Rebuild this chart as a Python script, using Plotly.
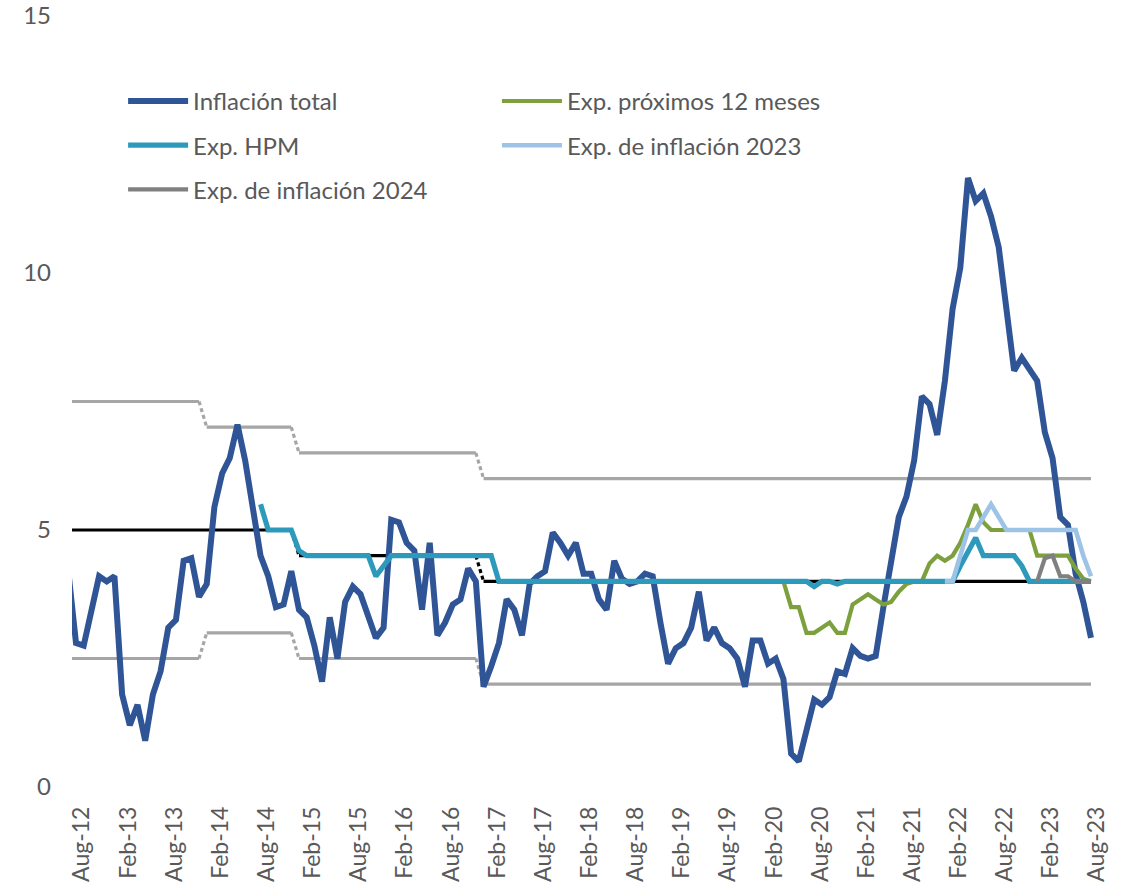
import pandas as pd
import plotly.graph_objects as go

# ---------------- data ----------------
# monthly axis (first month only partly visible at the left edge)
months = pd.date_range("2012-07-01", "2023-08-01", freq="MS").strftime("%b-%y").tolist()
tick_months = ["Aug-12", "Feb-13", "Aug-13", "Feb-14", "Aug-14", "Feb-15", "Aug-15", "Feb-16",
               "Aug-16", "Feb-17", "Aug-17", "Feb-18", "Aug-18", "Feb-19", "Aug-19", "Feb-20",
               "Aug-20", "Feb-21", "Aug-21", "Feb-22", "Aug-22", "Feb-23", "Aug-23"]

inflacion_total = [
    4.2,                                                                  # Jul-12
    2.8, 2.75, 3.4, 4.1, 4.0,                                             # Aug-Dec 12
    4.1, 1.8, 1.2, 1.6, 0.9, 1.8, 2.25, 3.1, 3.25, 4.4, 4.45, 3.7,       # 2013
    3.95, 5.45, 6.1, 6.4, 7.05, 6.35, 5.5, 4.5, 4.1, 3.5, 3.55, 4.2,     # 2014
    3.45, 3.3, 2.75, 2.05, 3.3, 2.5, 3.6, 3.9, 3.75, 3.35, 2.9, 3.1,     # 2015
    5.2, 5.15, 4.75, 4.6, 3.45, 4.75, 2.95, 3.2, 3.55, 3.65, 4.25, 4.0,  # 2016
    1.95, 2.35, 2.8, 3.65, 3.45, 2.95, 3.95, 4.1, 4.2, 4.95, 4.75, 4.5,  # 2017
    4.75, 4.15, 4.15, 3.65, 3.45, 4.4, 4.05, 3.95, 4.0, 4.15, 4.1, 3.2,  # 2018
    2.4, 2.7, 2.8, 3.1, 3.8, 2.85, 3.1, 2.8, 2.7, 2.5, 1.95, 2.85,       # 2019
    2.85, 2.4, 2.5, 2.1, 0.65, 0.5, 1.1, 1.7, 1.6, 1.75, 2.25, 2.2,      # 2020
    2.7, 2.55, 2.5, 2.55, 3.5, 4.3, 5.25, 5.65, 6.35, 7.6, 7.45, 6.85,   # 2021
    7.9, 9.3, 10.1, 11.85, 11.4, 11.55, 11.1, 10.5, 9.4, 8.1, 8.35, 8.1, # 2022
    7.9, 6.9, 6.4, 5.25, 5.1, 4.15, 3.6, 2.9,                            # Jan-Aug 23
]

exp_hpm_start = "Aug-14"
exp_hpm = [
    5.5, 5.0, 5.0, 5.0, 5.0,                                              # Aug-Dec 14
    4.6, 4.5, 4.5, 4.5, 4.5, 4.5, 4.5, 4.5, 4.5, 4.5, 4.1, 4.3,          # 2015
    4.5, 4.5, 4.5, 4.5, 4.5, 4.5, 4.5, 4.5, 4.5, 4.5, 4.5, 4.5,          # 2016
    4.5, 4.5, 4.0, 4.0, 4.0, 4.0, 4.0, 4.0, 4.0, 4.0, 4.0, 4.0,          # 2017
    4.0, 4.0, 4.0, 4.0, 4.0, 4.0, 4.0, 4.0, 4.0, 4.0, 4.0, 4.0,          # 2018
    4.0, 4.0, 4.0, 4.0, 4.0, 4.0, 4.0, 4.0, 4.0, 4.0, 4.0, 4.0,          # 2019
    4.0, 4.0, 4.0, 4.0, 4.0, 4.0, 4.0, 3.9, 4.0, 4.0, 3.95, 4.0,         # 2020
    4.0, 4.0, 4.0, 4.0, 4.0, 4.0, 4.0, 4.0, 4.0, 4.0, 4.0, 4.0,          # 2021
    4.0, 4.0, 4.3, 4.6, 4.85, 4.5, 4.5, 4.5, 4.5, 4.5, 4.3, 4.0,         # 2022
    4.0, 4.0, 4.0, 4.0, 4.0, 4.0, 4.0, 4.0,                              # Jan-Aug 23
]

exp_12m_start = "Mar-20"
exp_12m = [
    4.0, 4.0, 3.5, 3.5, 3.0, 3.0, 3.1, 3.2, 3.0, 3.0,                    # Mar-Dec 20
    3.55, 3.65, 3.75, 3.65, 3.55, 3.6, 3.8, 3.95, 4.0, 4.0, 4.35, 4.5,   # 2021
    4.4, 4.5, 4.75, 5.1, 5.5, 5.15, 5.0, 5.0, 5.0, 5.0, 5.0, 5.0,        # 2022
    4.5, 4.5, 4.5, 4.5, 4.5, 4.25, 4.05, 4.0,                            # Jan-Aug 23
]

exp_2023_start = "Jan-22"
exp_2023 = [
    4.0, 4.0, 4.5, 5.0, 5.0, 5.25, 5.5, 5.25, 5.0, 5.0, 5.0, 5.0,        # 2022
    5.0, 5.0, 5.0, 5.0, 5.0, 5.0, 4.5, 4.1,                              # Jan-Aug 23
]

exp_2024_start = "Jan-23"
exp_2024 = [4.0, 4.45, 4.5, 4.1, 4.1, 4.0, 4.0, 4.0]

# inflation target and tolerance band, by calendar year
band_years = [2012, 2013, 2014, 2015, 2016, 2017, 2018, 2019, 2020, 2021, 2022, 2023]
meta = [5.0, 5.0, 5.0, 4.5, 4.5, 4.0, 4.0, 4.0, 4.0, 4.0, 4.0, 4.0]
banda_sup = [7.5, 7.5, 7.0, 6.5, 6.5, 6.0, 6.0, 6.0, 6.0, 6.0, 6.0, 6.0]
banda_inf = [2.5, 2.5, 3.0, 2.5, 2.5, 2.0, 2.0, 2.0, 2.0, 2.0, 2.0, 2.0]

assert len(inflacion_total) == len(months)

# ---------------- helpers ----------------
idx = list(range(len(months)))


def align(start, values):
    s = months.index(start)
    y = [None] * len(months)
    y[s:s + len(values)] = values
    return y


def by_month(year_values):
    lookup = dict(zip(band_years, year_values))
    return [lookup[2000 + int(m[-2:])] for m in months]


def split_steps(y):
    """solid parts where the level is unchanged, dashed connectors where it changes"""
    sx, sy, dx, dy = [], [], [], []
    for i, v in enumerate(y):
        if i > 0 and v != y[i - 1]:
            sx.append(None); sy.append(None)
            dx += [i - 1, i, None]; dy += [y[i - 1], v, None]
        sx.append(i); sy.append(v)
    return sx, sy, dx, dy


FONT = "Lato, 'Open Sans', sans-serif"
TXT = "#595959"

fig = go.Figure()

for series, color in [(by_month(banda_sup), "#A6A6A6"), (by_month(banda_inf), "#A6A6A6"),
                      (by_month(meta), "#000000")]:
    sx, sy, dx, dy = split_steps(series)
    fig.add_trace(go.Scatter(x=sx, y=sy, mode="lines", showlegend=False, hoverinfo="skip",
                             line=dict(color=color, width=3.2)))
    fig.add_trace(go.Scatter(x=dx, y=dy, mode="lines", showlegend=False, hoverinfo="skip",
                             line=dict(color=color, width=3.2, dash="4px,3px")))

series_spec = [
    ("Inflación total", inflacion_total, "#2F5597", 6.0, "legend", "g1"),
    ("Exp. próximos 12 meses", align(exp_12m_start, exp_12m), "#7DA03E", 4.2, "legend2", "g2"),
    ("Exp. HPM", align(exp_hpm_start, exp_hpm), "#2E9ABB", 5.2, "legend", "g3"),
    ("Exp. de inflación 2023", align(exp_2023_start, exp_2023), "#9DC3E6", 4.6, "legend2", "g4"),
    ("Exp. de inflación 2024", align(exp_2024_start, exp_2024), "#808080", 4.2, "legend", "g5"),
]
for name, y, color, w, leg, grp in series_spec:
    fig.add_trace(go.Scatter(x=idx, y=y, name=name, mode="lines", legend=leg, legendgroup=grp,
                             line=dict(color=color, width=w)))

legend_common = dict(bgcolor="rgba(0,0,0,0)", font=dict(family=FONT, size=24, color=TXT),
                     itemwidth=60, tracegroupgap=10, traceorder="grouped",
                     xref="paper", yref="paper", xanchor="left", yanchor="top")

tick_pos = [months.index(m) for m in tick_months]

fig.update_layout(
    width=1130, height=883,
    margin=dict(l=72, r=36, t=16, b=96, autoexpand=False),
    plot_bgcolor="white", paper_bgcolor="white",
    font=dict(family=FONT, color=TXT),
    legend=dict(x=0.050, y=0.9184, **legend_common),
    legend2=dict(x=0.4158, y=0.9184, **legend_common),
    xaxis=dict(range=[0.48, 133.39], tickmode="array", tickvals=tick_pos, ticktext=tick_months,
               tickangle=-90, showgrid=False, zeroline=False, showline=False, ticks="",
               tickfont=dict(family=FONT, size=23, color=TXT), ticklabelstandoff=14,
               ticklabelshift=6, automargin=False),
    yaxis=dict(range=[0, 15], tickvals=[0, 5, 10, 15], showgrid=False, zeroline=False,
               showline=False, ticks="", tickfont=dict(family=FONT, size=24, color=TXT),
               ticklabelstandoff=20, automargin=False),
)

fig.write_html("out.html", config={"displayModeBar": False},
               post_script="document.body.style.margin='0';document.body.style.padding='0';"
                           "document.documentElement.style.overflow='hidden';")
